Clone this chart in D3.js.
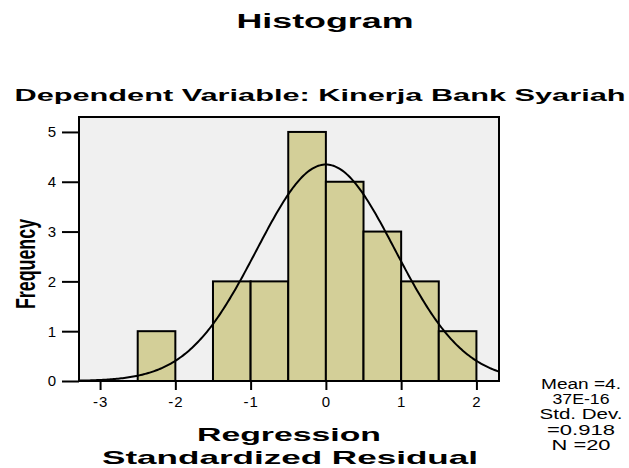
<!DOCTYPE html>
<html>
<head>
<meta charset="utf-8">
<script src="https://cdn.jsdelivr.net/npm/d3@7"></script>
<style>
  body { margin: 0; background: #fff; }
  text { font-family: "Liberation Sans", Arial, sans-serif; }
</style>
</head>
<body>
<svg id="chart" width="629" height="468"></svg>
<script>
// bins of the residual histogram (width 0.5)
var binStart = [-2.5, -1.5, -1.0, -0.5, 0.0, 0.5, 1.0, 1.5];
var binEnd   = [-2.0, -1.0, -0.5, 0.0, 0.5, 1.0, 1.5, 2.0];
var counts   = [1, 2, 2, 5, 4, 3, 2, 1];
var xTicks = [-3, -2, -1, 0, 1, 2];
var yTicks = [0, 1, 2, 3, 4, 5];
var mean = 4.37e-16, sd = 0.918, n = 20, binWidth = 0.5;
var statLines = ["Mean =4.", "37E-16", "Std. Dev.", "=0.918", "N =20"];
var statWidths = [80, 57, 83, 68, 59];

var svg = d3.select("#chart");
var plotLeft = 79, plotRight = 499, plotTop = 117, plotBottom = 381;

var x = d3.scaleLinear().domain([-3.28, 2.30]).range([plotLeft, plotRight]);
var y = d3.scaleLinear().domain([0, 5.3]).range([plotBottom, plotTop]);

// plot background
svg.append("rect")
    .attr("x", plotLeft).attr("y", plotTop)
    .attr("width", plotRight - plotLeft).attr("height", plotBottom - plotTop)
    .attr("fill", "#f0f0f0");

// bars
svg.append("g").selectAll("rect").data(counts).enter().append("rect")
    .attr("x", function(d, i) { return x(binStart[i]); })
    .attr("y", function(d) { return y(d); })
    .attr("width", function(d, i) { return x(binEnd[i]) - x(binStart[i]); })
    .attr("height", function(d) { return plotBottom - y(d); })
    .attr("fill", "#d3cf98")
    .attr("stroke", "#000")
    .attr("stroke-width", 2);

// normal curve from mean / sd
var curvePts = d3.range(-3.28, 2.301, 0.02).map(function(v) {
    var dens = Math.exp(-0.5 * Math.pow((v - mean) / sd, 2)) / (sd * Math.sqrt(2 * Math.PI));
    return [v, n * binWidth * dens];
});
svg.append("path")
    .datum(curvePts)
    .attr("d", d3.line().x(function(d) { return x(d[0]); }).y(function(d) { return y(d[1]); }))
    .attr("fill", "none")
    .attr("stroke", "#000")
    .attr("stroke-width", 2);

// frame
svg.append("rect")
    .attr("x", plotLeft).attr("y", plotTop)
    .attr("width", plotRight - plotLeft).attr("height", plotBottom - plotTop)
    .attr("fill", "none").attr("stroke", "#000").attr("stroke-width", 2);

// axes
var xAxis = d3.axisBottom(x).tickValues(xTicks).tickSize(9).tickPadding(6)
    .tickFormat(function(d) { return String(d); });
var gx = svg.append("g").attr("transform", "translate(0," + plotBottom + ")").call(xAxis);
gx.select(".domain").remove();

var yAxis = d3.axisLeft(y).tickValues(yTicks).tickSize(17).tickPadding(5)
    .tickFormat(function(d) { return String(d); });
var gy = svg.append("g").attr("transform", "translate(" + plotLeft + ",0)").call(yAxis);
gy.select(".domain").remove();

svg.selectAll(".tick line").attr("stroke", "#000").attr("stroke-width", 2);
svg.selectAll(".tick text")
    .attr("font-family", "'Liberation Sans', Arial, sans-serif")
    .attr("font-size", 15).attr("letter-spacing", 1).attr("fill", "#000");

// titles
svg.append("text").attr("x", 325).attr("y", 28)
    .attr("text-anchor", "middle").attr("font-size", 20).attr("font-weight", "bold")
    .attr("textLength", 177).attr("lengthAdjust", "spacingAndGlyphs")
    .text("Histogram");
svg.append("text").attr("x", 320).attr("y", 101)
    .attr("text-anchor", "middle").attr("font-size", 17).attr("font-weight", "bold")
    .attr("textLength", 611).attr("lengthAdjust", "spacingAndGlyphs")
    .text("Dependent Variable: Kinerja Bank Syariah");

// y label (condensed)
svg.append("text")
    .attr("transform", "translate(35,264) rotate(-90) scale(0.66,1)")
    .attr("text-anchor", "middle").attr("font-size", 27).attr("font-weight", "bold")
    .text("Frequency");

// x label
svg.append("text").attr("x", 289).attr("y", 441)
    .attr("text-anchor", "middle").attr("font-size", 19).attr("font-weight", "bold")
    .attr("textLength", 184).attr("lengthAdjust", "spacingAndGlyphs")
    .text("Regression");
svg.append("text").attr("x", 290).attr("y", 464)
    .attr("text-anchor", "middle").attr("font-size", 19).attr("font-weight", "bold")
    .attr("textLength", 376).attr("lengthAdjust", "spacingAndGlyphs")
    .text("Standardized Residual");

// stats box text
svg.append("g").selectAll("text").data(statLines).enter().append("text")
    .attr("x", 581)
    .attr("y", function(d, i) { return 389 + i * 15.2; })
    .attr("text-anchor", "middle").attr("font-size", 14)
    .attr("textLength", function(d, i) { return statWidths[i]; })
    .attr("lengthAdjust", "spacingAndGlyphs")
    .text(function(d) { return d; });
</script>
</body>
</html>
